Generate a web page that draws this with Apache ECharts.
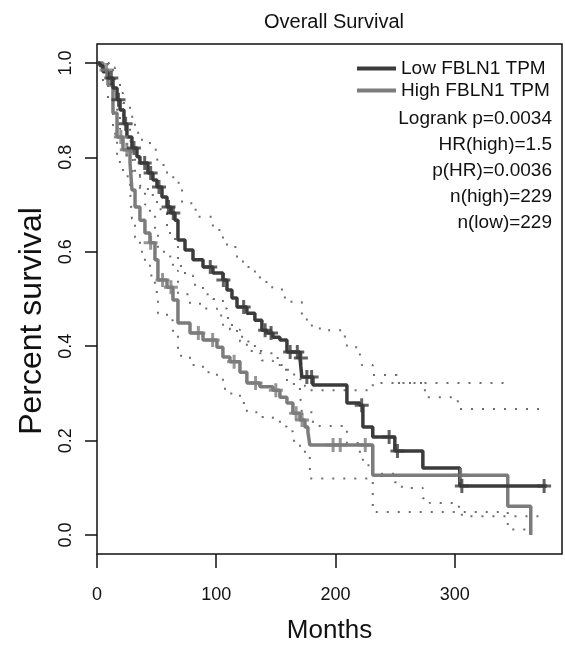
<!DOCTYPE html>
<html><head><meta charset="utf-8">
<script src="https://cdn.jsdelivr.net/npm/echarts@6/dist/echarts.min.js"></script>
<style>html,body{margin:0;padding:0;background:#fff}#c{width:565px;height:650px}</style>
</head><body><div id="c"></div><script>
// ---- data ----
const titleText = 'Overall Survival';
const xName = 'Months';
const yName = 'Percent survival';
const xTicks = [0, 100, 200, 300];
const yTicks = [0, 0.2, 0.4, 0.6, 0.8, 1.0];
const seriesNames = ['Low FBLN1 TPM', 'High FBLN1 TPM'];
const statsLines = ['Logrank p=0.0034', 'HR(high)=1.5', 'p(HR)=0.0036', 'n(high)=229', 'n(low)=229'];

const lowTime = [0,2.5,5,9.2,13.4,16.8,19.3,22.6,25.1,29.3,33.5,36,42.7,46.9,50.3,54.5,58.7,62,65.4,67.9,73.8,80.5,88.9,97.2,105.6,109,113.2,117.4,125.7,132.4,138.3,142.5,147.5,153.4,159.3,170.2,171.8,181.1,209.6,220.5,223,231.3,249.8,273.3,304.3,377.2];
const lowSurv = [1,0.994,0.981,0.968,0.947,0.922,0.9,0.871,0.843,0.82,0.801,0.788,0.767,0.752,0.737,0.716,0.695,0.682,0.667,0.625,0.604,0.583,0.568,0.555,0.54,0.519,0.502,0.483,0.47,0.455,0.434,0.428,0.419,0.413,0.388,0.375,0.335,0.318,0.28,0.275,0.229,0.208,0.178,0.142,0.104,0.104];

const highTime = [0,5,9.2,13.4,16.8,21.8,27.7,29.3,31.9,36,40.2,44.4,48.6,51.1,58.7,63.7,67.9,78,88.9,100.6,105.6,111.5,119.9,125.7,136.6,147.5,153.4,159.3,164.3,170.2,174.4,176.9,178.5,231.3,344.5,363.8];
const highSurv = [1,0.985,0.953,0.894,0.843,0.816,0.788,0.731,0.695,0.667,0.64,0.619,0.583,0.54,0.525,0.498,0.449,0.428,0.413,0.398,0.377,0.367,0.345,0.322,0.314,0.307,0.292,0.28,0.258,0.244,0.229,0.218,0.191,0.127,0.061,0];

const lowUpperTime = [0,10,15,19.3,21.8,27.7,31.9,36,44.4,46,50.3,51.1,58.7,65.4,71.3,80.5,84.7,97.2,105.6,109,117.4,122.4,132.4,136.6,142.5,147.5,155.1,157.6,171.8,176,180.2,186.9,207.9,209.6,220.5,222.1,231.3,251.5,273.3,276.6,302.6,377.2];
const lowUpperVal = [1,0.99,0.965,0.936,0.915,0.886,0.852,0.837,0.83,0.816,0.8,0.784,0.758,0.746,0.703,0.689,0.674,0.646,0.625,0.61,0.583,0.568,0.547,0.536,0.525,0.523,0.513,0.494,0.462,0.449,0.441,0.434,0.417,0.398,0.381,0.36,0.339,0.322,0.307,0.292,0.267,0.267];

const lowLowerTime = [0,5,13.4,19.3,25.1,30,36,42.7,50.3,58.7,65.4,67.9,73.8,80.5,88.9,97.2,105.6,109,113.2,117.4,125.7,132.4,138.3,147.5,153.4,159.3,170.2,171.8,181.1,209.6,220.5,223,231.3,249.8,255.7,273.3,279,302.6,306,377.2];
const lowLowerVal = [1,0.96,0.91,0.86,0.8,0.77,0.74,0.72,0.69,0.64,0.62,0.57,0.55,0.53,0.51,0.5,0.48,0.46,0.44,0.42,0.41,0.39,0.37,0.36,0.35,0.32,0.3,0.26,0.231,0.195,0.174,0.148,0.13,0.112,0.1,0.078,0.068,0.06,0.04,0.04];

const highUpperTime = [0,9.2,13.4,16.8,21.8,27.7,29.3,31.9,36,40.2,44.4,48.6,51.1,58.7,63.7,67.9,78,88.9,100.6,105.6,111.5,119.9,125.7,136.6,147.5,153.4,159.3,164.3,170.2,174.4,178.5,231.3,344.5];
const highUpperVal = [1,0.99,0.94,0.9,0.87,0.85,0.8,0.76,0.73,0.7,0.68,0.645,0.6,0.59,0.56,0.51,0.49,0.48,0.465,0.445,0.435,0.41,0.39,0.385,0.375,0.36,0.35,0.34,0.33,0.315,0.307,0.322,0.322];

const highLowerTime = [0,5,9.2,13.4,16.8,21.8,27.7,29.3,31.9,36,40.2,44.4,48.6,51.1,58.7,63.7,67.9,78,88.9,100.6,105.6,111.5,119.9,125.7,136.6,147.5,153.4,159.3,164.3,170.2,174.4,178.5,231.3,344.5,363.8];
const highLowerVal = [1,0.96,0.92,0.85,0.79,0.76,0.73,0.67,0.63,0.6,0.575,0.55,0.515,0.47,0.455,0.43,0.38,0.36,0.345,0.33,0.31,0.3,0.28,0.26,0.25,0.245,0.23,0.22,0.2,0.185,0.172,0.12,0.049,0.012,0.012];

const lowCensorTime = [12,18,24,31,40,45,52,60,64,95,106,123,141,146,162,168,171,176,180,222,245,252,306,375];
const lowCensorSurv = [0.968,0.922,0.871,0.82,0.788,0.767,0.737,0.695,0.682,0.568,0.54,0.483,0.434,0.428,0.388,0.388,0.375,0.335,0.335,0.275,0.208,0.178,0.104,0.104];
const highCensorTime = [8,20,25,45,55,62,85,97,115,133,150,167,172,198,204,225,305];
const highCensorSurv = [0.985,0.843,0.816,0.619,0.54,0.525,0.428,0.413,0.367,0.322,0.307,0.258,0.244,0.191,0.191,0.191,0.127];

// ---- chart ----
const FONT = "'Liberation Sans', Arial, Helvetica, sans-serif";
const LOW_C = '#3b3b3b', HIGH_C = '#7c7c7c', CI_C = '#6e6e6e';
const zip = (t, v) => t.map((x, i) => [x, v[i]]);
const plus = 'path://M5.5,0H8.5V14H5.5ZM0,5.5H14V8.5H0Z';

function ciSeries(data) {
  return { type: 'line', data, step: 'end', symbol: 'none', silent: true, z: 1,
    lineStyle: { color: CI_C, width: 2, type: [2, 9] } };
}

const chart = echarts.init(document.getElementById('c'), null, { renderer: 'canvas' });
chart.setOption({
  animation: false,
  backgroundColor: '#fff',
  textStyle: { fontFamily: FONT },
  title: { text: titleText, left: 329, top: 7, textAlign: 'center',
    textStyle: { fontFamily: FONT, fontSize: 20, fontWeight: 'normal', color: '#111' } },
  grid: { left: 97, top: 44, width: 465, height: 510, show: true, borderColor: '#111', borderWidth: 1.5, backgroundColor: 'transparent' },
  legend: {
    data: seriesNames, orient: 'vertical', left: 357, top: 59, padding: 0, icon: 'rect',
    itemWidth: 39, itemHeight: 4, itemGap: 3, selectedMode: false,
    textStyle: { fontFamily: FONT, fontSize: 19, color: '#111' }
  },
  xAxis: {
    type: 'value', min: 0, max: 390, interval: 100,
    name: xName, nameLocation: 'middle', nameGap: 64, nameMoveOverlap: false,
    nameTextStyle: { fontFamily: FONT, fontSize: 26, color: '#111' },
    axisLine: { show: false, onZero: false },
    axisTick: { show: true, length: 14, inside: false, customValues: xTicks, lineStyle: { color: '#111', width: 1.5 } },
    axisLabel: { customValues: xTicks, margin: 32, fontFamily: FONT, fontSize: 18, color: '#111' },
    splitLine: { show: false }
  },
  yAxis: {
    type: 'value', min: -0.04, max: 1.04,
    name: yName, nameLocation: 'middle', nameGap: 49, nameRotate: 90, nameMoveOverlap: false,
    nameTextStyle: { fontFamily: FONT, fontSize: 32, color: '#111', padding: [0, 44, 0, 0] },
    axisLine: { show: false, onZero: false },
    axisTick: { show: true, length: 12, inside: false, customValues: yTicks, lineStyle: { color: '#111', width: 1.5 } },
    axisLabel: { customValues: yTicks, rotate: 90, margin: 22, fontFamily: FONT, fontSize: 18, color: '#111',
      formatter: v => v.toFixed(1) },
    splitLine: { show: false }
  },
  graphic: statsLines.map((s, i) => ({
    type: 'text', right: 13, top: 109 + i * 26,
    style: { text: s, font: '19px ' + FONT, fill: '#111', textAlign: 'right' }
  })),
  series: [
    ciSeries(zip(lowUpperTime, lowUpperVal)),
    ciSeries(zip(lowLowerTime, lowLowerVal)),
    ciSeries(zip(highUpperTime, highUpperVal)),
    ciSeries(zip(highLowerTime, highLowerVal)),
    { type: 'line', name: seriesNames[1], data: zip(highTime, highSurv), step: 'end', symbol: 'none', z: 3,
      color: HIGH_C, lineStyle: { color: HIGH_C, width: 3.5 } },
    { type: 'line', name: seriesNames[0], data: zip(lowTime, lowSurv), step: 'end', symbol: 'none', z: 4,
      color: LOW_C, lineStyle: { color: LOW_C, width: 3.5 } },
    { type: 'scatter', data: zip(highCensorTime, highCensorSurv), symbol: plus, symbolSize: 14, z: 5,
      itemStyle: { color: HIGH_C }, silent: true },
    { type: 'scatter', data: zip(lowCensorTime, lowCensorSurv), symbol: plus, symbolSize: 14, z: 6,
      itemStyle: { color: LOW_C }, silent: true }
  ]
});
</script></body></html>
